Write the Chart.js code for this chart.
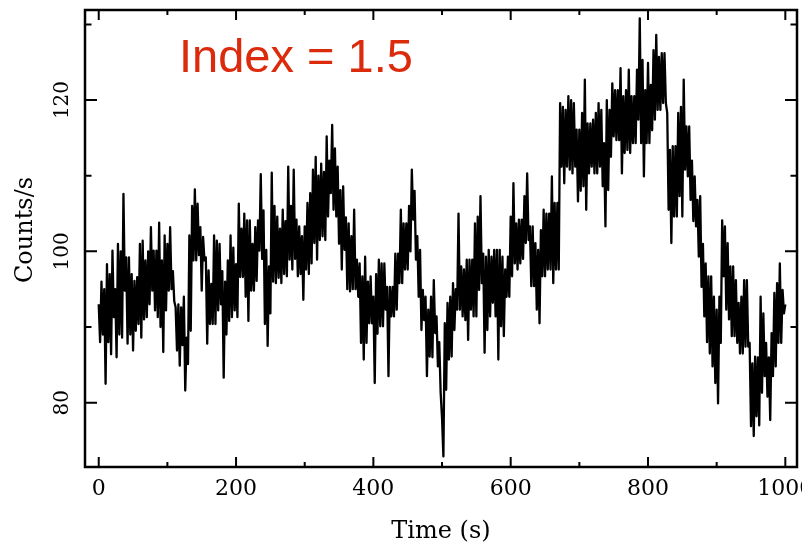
<!DOCTYPE html>
<html>
<head>
<meta charset="utf-8">
<title>Light curve</title>
<script src="https://cdn.jsdelivr.net/npm/chart.js@4.4.1/dist/chart.umd.min.js"></script>
<style>
  html, body { margin: 0; padding: 0; background: #fff; overflow: hidden; }
  canvas { display: block; }
</style>
</head>
<body>
<canvas id="lcChart" width="802" height="547"></canvas>
<script>
// Light curve in 2 s bins
const binSize = 2;
const counts = [
  93, 88, 96, 89, 95, 82.5, 98.3, 88, 97, 86.4, 100.1, 91.3, 95, 86, 101, 89, 100, 88.6, 107.6, 94.8,
  99.2, 87.8, 99.2, 89, 97, 86.9, 96.1, 89.5, 96.6, 90.4, 101, 88.6, 101.4, 91, 98.8, 91.3, 100, 93, 103.2, 94.8,
  100.1, 92.2, 100.1, 91.3, 103.8, 90, 98.8, 86.7, 102.1, 92.2, 101, 94.8, 103.2, 95, 97.4, 93.4, 92.6, 86.9, 93, 84.9,
  92.6, 87.6, 94, 81.6, 88.6, 85.1, 102.1, 89.5, 106, 98.8, 108.2, 98.8, 106.3, 99.5, 103.2, 94.8, 101.9, 98.8, 99.2, 87.8,
  97.5, 90.4, 95.7, 90.4, 102.1, 90.4, 101.4, 92.2, 101, 93, 97.4, 83.3, 96, 89, 98.8, 90.8, 102.1, 91.3, 100.5, 92.2,
  98.3, 91.3, 106.3, 96.6, 103, 96.6, 105, 94, 104.1, 90.8, 104.1, 94.8, 101, 94.8, 103.2, 96.1, 104.1, 100.1, 110.2, 99,
  105.4, 90.4, 100.2, 87.5, 98, 91.8, 110.4, 96, 106, 95.8, 104.6, 96.5, 103, 95.8, 105.5, 97, 104, 96.7, 111.2, 98.9,
  106, 97.6, 110.8, 99, 104.2, 96.7, 103.3, 97, 102, 93.6, 103.3, 97.6, 106.4, 97, 107.7, 98.4, 110.8, 101.1, 112.5, 98.9,
  110, 101.5, 111.6, 102, 110.5, 101.5, 115.2, 104.6, 112, 107.7, 116.7, 105.5, 113.6, 104.6, 111.2, 101, 108.1, 97.6, 108.6, 100.2,
  104.5, 95, 103.7, 94.7, 102, 95, 105.5, 95, 98.9, 94, 98.4, 87.9, 96.7, 85.7, 99.3, 87.9, 96, 90.5, 96.7, 90.5,
  94, 82.6, 97, 89.1, 98.9, 90.1, 98.4, 90.1, 98.4, 92.3, 95.3, 83.5, 95.3, 91.4, 95.3, 91.4, 99.7, 92.3, 99.7, 95.8,
  105.5, 95.8, 103.7, 97.6, 103.7, 97.6, 106, 100, 110.8, 104.2, 108, 98.9, 102, 94, 100.2, 89.6, 94.9, 90.9, 94, 83.5,
  92.3, 86.1, 94, 86, 96.2, 89.2, 91.4, 84.8, 88, 81.3, 78, 72.9, 90.5, 81.7, 93.2, 85.7, 94, 86.1, 95.8, 89.6,
  95, 92.3, 105, 92.3, 98, 91.4, 97.6, 90.9, 98.9, 88.3, 98.9, 92.3, 98.9, 91.4, 103.7, 91.4, 104.6, 94.9, 107.3, 95.8,
  99.7, 86.6, 99.3, 89.6, 100.2, 91.4, 99.3, 93.2, 100.2, 91.4, 100.2, 85.7, 100.2, 90.1, 99.3, 88.8, 97.6, 94, 99.3, 94,
  104.6, 96.7, 109, 98.4, 103.7, 97.6, 104.2, 98.4, 104.2, 99, 107.3, 101.1, 110.3, 101.5, 103.3, 95.4, 103.3, 95.4, 101.1, 92.3,
  100.2, 90.5, 102.8, 96.7, 105.5, 96.7, 105, 97.6, 105, 97.6, 109.9, 95.8, 106.4, 97.6, 106.4, 97.6, 119.6, 111.2, 119.1, 109,
  118.7, 111.2, 120.5, 110.8, 120, 110.3, 119.6, 111.2, 116.1, 106.6, 116.1, 108, 118.3, 108.6, 122.7, 105.5, 116.9, 110.3, 116.9, 111.2,
  117.4, 110.3, 118.3, 110.3, 119.6, 111.2, 118.7, 108.6, 114.3, 103.3, 120, 108.1, 118.7, 112.5, 122.2, 115.2, 121.3, 114.7, 121.3, 114.7,
  124.2, 110.3, 120.5, 113, 121.3, 113.4, 124, 113, 120.5, 114.3, 120.5, 114.3, 124, 117.4, 130.8, 114.3, 125.3, 109.9, 121.3, 114.3,
  124.9, 114.3, 122, 116, 126.6, 117.4, 128.6, 118.7, 125.7, 118.7, 126.2, 119.6, 126.2, 119.6, 118.3, 105.5, 113.4, 101.1, 113.9, 104.6,
  113.9, 104.6, 118.3, 107.3, 119.1, 104.6, 122.7, 110.8, 116.5, 109.9, 116.5, 106.8, 112, 104, 109.9, 103.3, 106.8, 99.3, 107.3, 95.3,
  101, 91.4, 98.4, 88, 96.7, 86.5, 96.7, 84.8, 94, 82.6, 92.3, 79.9, 94, 87.9, 104.1, 96.7, 103.3, 92.3, 101.1, 91,
  98, 88.8, 98, 88.8, 96.2, 87.9, 93.2, 86.5, 94, 86.5, 96.2, 87.4, 96.2, 87.4, 87.9, 76.9, 85.2, 75.6, 86.1, 78.2,
  86, 77, 94, 81.3, 91.8, 83.5, 87.9, 80.8, 86, 77.7, 89.2, 83.5, 94.5, 84.8, 95.8, 87.9, 98.4, 87.9, 94.9, 91.8,
  93
];

// axis ticks
const xMajorTicks = [0, 200, 400, 600, 800, 1000];
const xMinorTicks = [100, 300, 500, 700, 900];
const yMajorTicks = [80, 100, 120];
const yMinorTicks = [90, 110, 130];

const points = counts.map((c, i) => ({ x: i * binSize, y: c }));

// PGPLOT style box: frame, inward ticks, serif labels
const boxAxes = {
  id: 'boxAxes',
  afterDatasetsDraw(chart) {
    const { ctx, chartArea: a, scales: { x, y } } = chart;
    ctx.save();
    ctx.strokeStyle = '#000';
    ctx.fillStyle = '#000';

    ctx.lineWidth = 2;
    ctx.beginPath();
    const xTick = (v, len) => {
      const px = x.getPixelForValue(v);
      ctx.moveTo(px, a.bottom); ctx.lineTo(px, a.bottom - len);
      ctx.moveTo(px, a.top); ctx.lineTo(px, a.top + len);
    };
    const yTick = (v, len) => {
      const py = y.getPixelForValue(v);
      ctx.moveTo(a.left, py); ctx.lineTo(a.left + len, py);
      ctx.moveTo(a.right, py); ctx.lineTo(a.right - len, py);
    };
    xMajorTicks.forEach(v => xTick(v, 10));
    xMinorTicks.forEach(v => xTick(v, 5));
    yMajorTicks.forEach(v => yTick(v, 12));
    yMinorTicks.forEach(v => yTick(v, 6.5));
    ctx.stroke();

    ctx.lineWidth = 2.5;
    ctx.strokeRect(a.left, a.top, a.right - a.left, a.bottom - a.top);

    // tick labels
    ctx.font = '22px "DejaVu Serif"';
    ctx.textAlign = 'center';
    ctx.textBaseline = 'alphabetic';
    xMajorTicks.forEach(v => ctx.fillText(String(v), x.getPixelForValue(v), 495));

    ctx.font = '20px "DejaVu Serif"';
    yMajorTicks.forEach(v => {
      ctx.save();
      ctx.translate(68, y.getPixelForValue(v));
      ctx.rotate(-Math.PI / 2);
      ctx.fillText(String(v), 0, 0);
      ctx.restore();
    });

    // axis titles
    ctx.font = '24px "DejaVu Serif"';
    ctx.fillText('Time (s)', 441, 538);
    ctx.save();
    ctx.translate(32, 230);
    ctx.rotate(-Math.PI / 2);
    ctx.fillText('Counts/s', 0, 0);
    ctx.restore();

    // annotation
    ctx.font = '47px "Liberation Sans"';
    ctx.fillStyle = '#dc2a0c';
    ctx.textAlign = 'left';
    ctx.fillText('Index = 1.5', 179, 72);
    ctx.restore();
  }
};

new Chart(document.getElementById('lcChart'), {
  type: 'line',
  data: {
    datasets: [{
      data: points,
      borderColor: '#000',
      borderWidth: 2.3,
      borderJoinStyle: 'round',
      pointRadius: 0,
      tension: 0
    }]
  },
  options: {
    responsive: false,
    animation: false,
    devicePixelRatio: 1,
    layout: { padding: { left: 85, top: 10, right: 5, bottom: 80 } },
    plugins: { legend: { display: false }, tooltip: { enabled: false } },
    scales: {
      x: { type: 'linear', min: -20, max: 1017, display: false },
      y: { min: 71.5, max: 131.9, display: false }
    }
  },
  plugins: [boxAxes]
});
</script>
</body>
</html>
